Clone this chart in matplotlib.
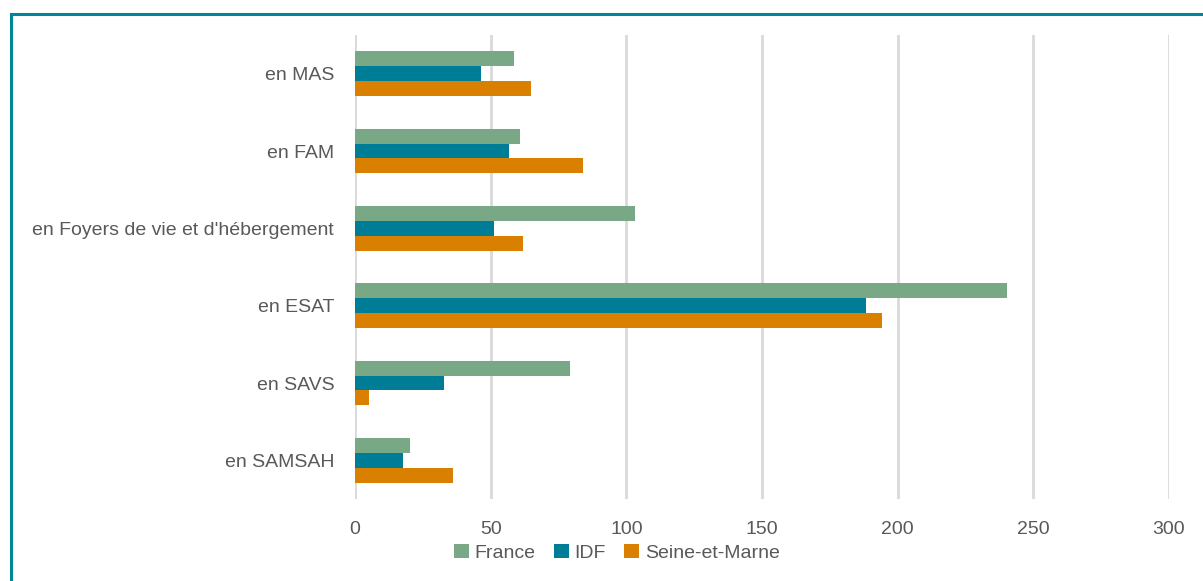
import matplotlib
matplotlib.use("Agg")
import matplotlib.pyplot as plt
from matplotlib.patches import Rectangle
import numpy as np

plt.rcParams['font.family'] = ['Liberation Sans', 'DejaVu Sans']

categories = ["en MAS", "en FAM", "en Foyers de vie et d'hébergement",
              "en ESAT", "en SAVS", "en SAMSAH"]
france = [58.5, 60.8, 103.2, 240.3, 79.1, 20.2]
idf = [46.3, 56.6, 51.2, 188.2, 32.9, 17.7]
seine_et_marne = [64.9, 84.0, 62.0, 194.1, 5.0, 36.0]
series_names = ["France", "IDF", "Seine-et-Marne"]
colors = ["#78A886", "#007D96", "#D98000"]
xticks = [0, 50, 100, 150, 200, 250, 300]

W, H = 1203, 581
fig = plt.figure(figsize=(W / 100, H / 100), dpi=100)
ax = fig.add_axes([355 / W, 1 - 499 / H, (1169 - 355) / W, (499 - 35) / H])

text_color = "#595959"
grid_color = "#D9D9D9"

y = np.arange(len(categories))
h = 0.192
for offset, vals, name, c in zip([-h, 0, h], [france, idf, seine_et_marne],
                                 series_names, colors):
    ax.barh(y + offset, vals, height=h, color=c, label=name, linewidth=0, zorder=3)

ax.set_xlim(0, 300)
ax.set_ylim(len(categories) - 0.5, -0.5)
ax.set_xticks(xticks)
ax.set_xticklabels([str(t) for t in xticks])
ax.set_yticks(y)
ax.set_yticklabels(categories)
ax.tick_params(axis='both', length=0, labelsize=14, colors=text_color)
ax.tick_params(axis='y', pad=15)
ax.tick_params(axis='x', pad=16)
ax.grid(axis='x', color=grid_color, linewidth=2, zorder=0)
for s in ax.spines.values():
    s.set_visible(False)

leg = fig.legend(loc='center', bbox_to_anchor=(617 / W, 1 - 553 / H), ncol=3,
                 frameon=False, fontsize=14, handlelength=0.75, handleheight=0.75,
                 handletextpad=0.3, columnspacing=0.95, borderaxespad=0)
for t in leg.get_texts():
    t.set_color(text_color)

# outer frame of the chart
fig.patches.append(Rectangle((11 / W, -0.1), 1.2, 1 - 13.5 / H + 0.1,
                             transform=fig.transFigure, fill=False,
                             edgecolor="#00859B", linewidth=2.2))

fig.savefig("out.png", dpi=100)
